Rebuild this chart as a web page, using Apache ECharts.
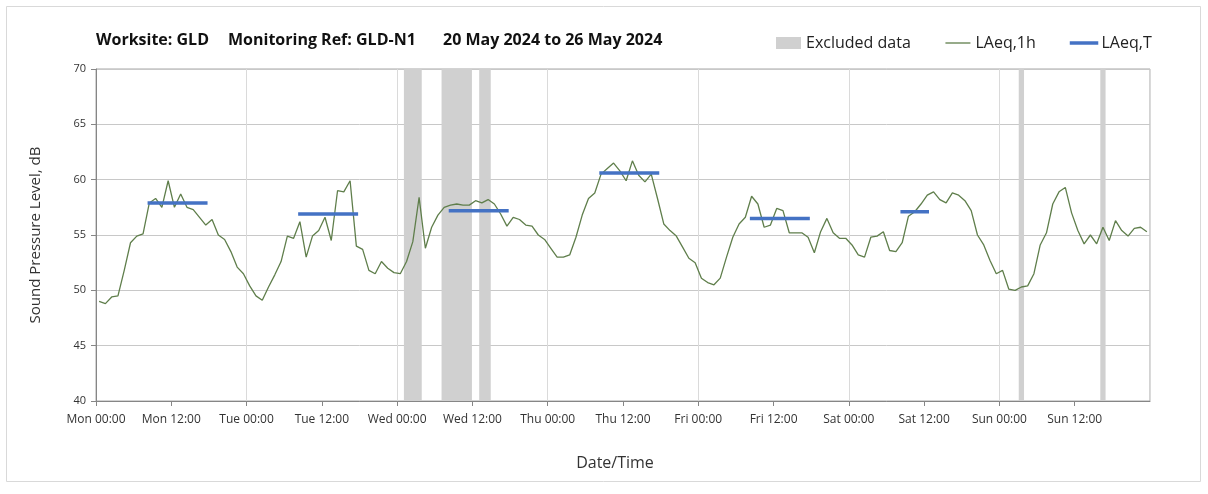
<!DOCTYPE html>
<html>
<head>
<meta charset="utf-8">
<script src="https://cdn.jsdelivr.net/npm/echarts@6/dist/echarts.min.js"></script>
<style>
  html, body { margin: 0; padding: 0; background: #ffffff; }
  #chart { width: 1208px; height: 494px; }
</style>
</head>
<body>
<div id="chart"></div>
<script>
// Hourly LAeq,1h values (dB) for each day, 00:00 to 23:00
const monday    = [49.0, 48.8, 49.4, 49.5, 51.8, 54.3, 54.9, 55.1, 57.9, 58.3, 57.5, 59.9, 57.5, 58.7, 57.5, 57.3, 56.6, 55.9, 56.4, 55.0, 54.6, 53.5, 52.1, 51.5];
const tuesday   = [50.4, 49.5, 49.1, 50.3, 51.4, 52.6, 54.9, 54.7, 56.2, 53.0, 54.9, 55.4, 56.6, 54.5, 59.0, 58.9, 59.9, 54.0, 53.7, 51.8, 51.5, 52.6, 52.0, 51.6];
const wednesday = [51.5, 52.6, 54.4, 58.4, 53.8, 55.7, 56.8, 57.5, 57.7, 57.8, 57.7, 57.7, 58.1, 57.9, 58.2, 57.8, 56.9, 55.8, 56.6, 56.4, 55.9, 55.8, 55.0, 54.6];
const thursday  = [53.8, 53.0, 53.0, 53.2, 54.8, 56.8, 58.3, 58.8, 60.5, 61.0, 61.5, 60.8, 59.9, 61.7, 60.4, 59.8, 60.5, 58.3, 56.0, 55.4, 54.9, 53.9, 52.9, 52.5];
const friday    = [51.1, 50.7, 50.5, 51.1, 53.0, 54.8, 56.0, 56.6, 58.5, 57.8, 55.7, 55.9, 57.4, 57.2, 55.2, 55.2, 55.2, 54.8, 53.4, 55.3, 56.5, 55.2, 54.7, 54.7];
const saturday  = [54.1, 53.2, 53.0, 54.8, 54.9, 55.3, 53.6, 53.5, 54.3, 56.7, 57.1, 57.8, 58.6, 58.9, 58.2, 57.9, 58.8, 58.6, 58.1, 57.2, 55.0, 54.1, 52.7, 51.5];
const sunday    = [51.8, 50.1, 50.0, 50.3, 50.4, 51.5, 54.1, 55.2, 57.8, 58.9, 59.3, 57.0, 55.4, 54.2, 55.0, 54.2, 55.7, 54.5, 56.3, 55.4, 54.9, 55.6, 55.7, 55.3];

// LAeq,T assessment periods: start / end hour (from Mon 00:00) and level
const periodStart = [8, 32, 56, 80, 104, 128];
const periodEnd   = [18, 42, 66, 90, 114, 133];
const periodLAeqT = [57.9, 56.9, 57.2, 60.6, 56.5, 57.1];

// Excluded hours: start / end hour from Mon 00:00
const excludedStart = [49, 55, 61, 147, 160];
const excludedEnd   = [52, 60, 63, 148, 161];

// Tick labels every 12 hours
const tickLabels = ['Mon 00:00', 'Mon 12:00', 'Tue 00:00', 'Tue 12:00', 'Wed 00:00', 'Wed 12:00',
                    'Thu 00:00', 'Thu 12:00', 'Fri 00:00', 'Fri 12:00', 'Sat 00:00', 'Sat 12:00',
                    'Sun 00:00', 'Sun 12:00'];

const FONT = '"Open Sans", "DejaVu Sans", sans-serif';
const GREEN = '#5f7e4b';
const BLUE = '#4472c4';
const GREY_BAND = '#d0d0d0';

// Hourly points sit in the middle of their hour
const hourly = [].concat(monday, tuesday, wednesday, thursday, friday, saturday, sunday);
const hourlyData = hourly.map((v, i) => [i + 0.5, v]);

// Period lines, broken between periods
const periodData = [];
periodLAeqT.forEach((v, k) => {
  periodData.push([periodStart[k] + 0.5, v]);
  periodData.push([periodEnd[k] - 0.5, v]);
  periodData.push([periodEnd[k], '-']);
});

const excludedData = excludedStart.map((s, k) => [s, excludedEnd[k]]);

const titleStyle = { fontFamily: FONT, fontSize: 16, fontWeight: 'bold', color: '#111' };
const hiddenSymbol = { color: 'rgba(0,0,0,0)', borderWidth: 0, opacity: 0 };

const chart = echarts.init(document.getElementById('chart'), null, { renderer: 'canvas' });

chart.setOption({
  backgroundColor: '#ffffff',
  animation: false,
  textStyle: { fontFamily: FONT },
  title: [
    { text: 'Worksite: GLD', left: 96, top: 32, padding: 0, textStyle: titleStyle },
    { text: 'Monitoring Ref: GLD-N1', left: 228, top: 32, padding: 0, textStyle: titleStyle },
    { text: '20 May 2024 to 26 May 2024', left: 443, top: 32, padding: 0, textStyle: titleStyle }
  ],
  legend: {
    left: 776,
    top: 35,
    padding: 0,
    itemWidth: 25,
    itemHeight: 12,
    itemGap: 34,
    textStyle: { fontFamily: FONT, fontSize: 16, color: '#222' },
    data: [
      { name: 'Excluded data', icon: 'rect', itemStyle: { color: GREY_BAND } },
      { name: 'LAeq,1h', itemStyle: hiddenSymbol, lineStyle: { color: GREEN, width: 1.3 } },
      { name: 'LAeq,T', itemStyle: hiddenSymbol, lineStyle: { color: BLUE, width: 3.5 } }
    ]
  },
  graphic: [
    { type: 'rect', silent: true, z: -10,
      shape: { x: 6.5, y: 6.5, width: 1194, height: 475 },
      style: { fill: 'none', stroke: '#d9d9d9', lineWidth: 1 } }
  ],
  grid: {
    left: 96, right: 58, top: 69, bottom: 93,
    show: true, borderColor: '#a6a6a6', borderWidth: 1, backgroundColor: 'transparent'
  },
  xAxis: [
    {
      type: 'value', min: 0, max: 168, interval: 12,
      name: 'Date/Time', nameLocation: 'middle', nameGap: 54,
      nameTextStyle: { fontFamily: FONT, fontSize: 16, color: '#333', padding: [0, 16, 0, 0] },
      axisLine: { show: true, lineStyle: { color: '#868686', width: 1 } },
      axisTick: { show: true, length: 5, lineStyle: { color: '#868686' } },
      axisLabel: {
        fontFamily: FONT, fontSize: 12, color: '#333', margin: 13,
        showMaxLabel: false,
        formatter: (v) => tickLabels[Math.round(v / 12)] || ''
      },
      splitLine: { show: false }
    },
    {
      // daily gridlines
      type: 'value', min: 0, max: 168, interval: 24, position: 'bottom',
      axisLine: { show: false }, axisTick: { show: false }, axisLabel: { show: false },
      splitLine: { show: true, lineStyle: { color: '#dadada', width: 1 } }
    }
  ],
  yAxis: {
    type: 'value', min: 40, max: 70, interval: 5,
    name: 'Sound Pressure Level, dB', nameLocation: 'middle', nameGap: 53,
    nameTextStyle: { fontFamily: FONT, fontSize: 15, color: '#333' },
    axisLine: { show: true, lineStyle: { color: '#868686', width: 1 } },
    axisTick: { show: true, length: 5, lineStyle: { color: '#868686' } },
    axisLabel: { fontFamily: FONT, fontSize: 11, color: '#333', margin: 10 },
    splitLine: { show: true, lineStyle: { color: '#c8c8c8', width: 1 } }
  },
  series: [
    {
      name: 'Excluded data',
      type: 'custom',
      xAxisIndex: 0,
      z: 1,
      silent: true,
      data: excludedData,
      renderItem: (params, api) => {
        const p0 = api.coord([api.value(0), 70]);
        const p1 = api.coord([api.value(1), 40]);
        return {
          type: 'rect',
          shape: { x: p0[0] + 0.5, y: p0[1], width: p1[0] - p0[0] - 1, height: p1[1] - p0[1] },
          style: { fill: GREY_BAND }
        };
      },
      itemStyle: { color: GREY_BAND }
    },
    {
      name: 'LAeq,1h',
      type: 'line',
      xAxisIndex: 0,
      z: 3,
      symbol: 'none',
      data: hourlyData,
      itemStyle: { color: GREEN },
      lineStyle: { color: GREEN, width: 1.3 }
    },
    {
      name: 'LAeq,T',
      type: 'line',
      xAxisIndex: 0,
      z: 4,
      symbol: 'none',
      connectNulls: false,
      data: periodData,
      itemStyle: { color: BLUE },
      lineStyle: { color: BLUE, width: 3.5, cap: 'square' }
    }
  ]
});
</script>
</body>
</html>
